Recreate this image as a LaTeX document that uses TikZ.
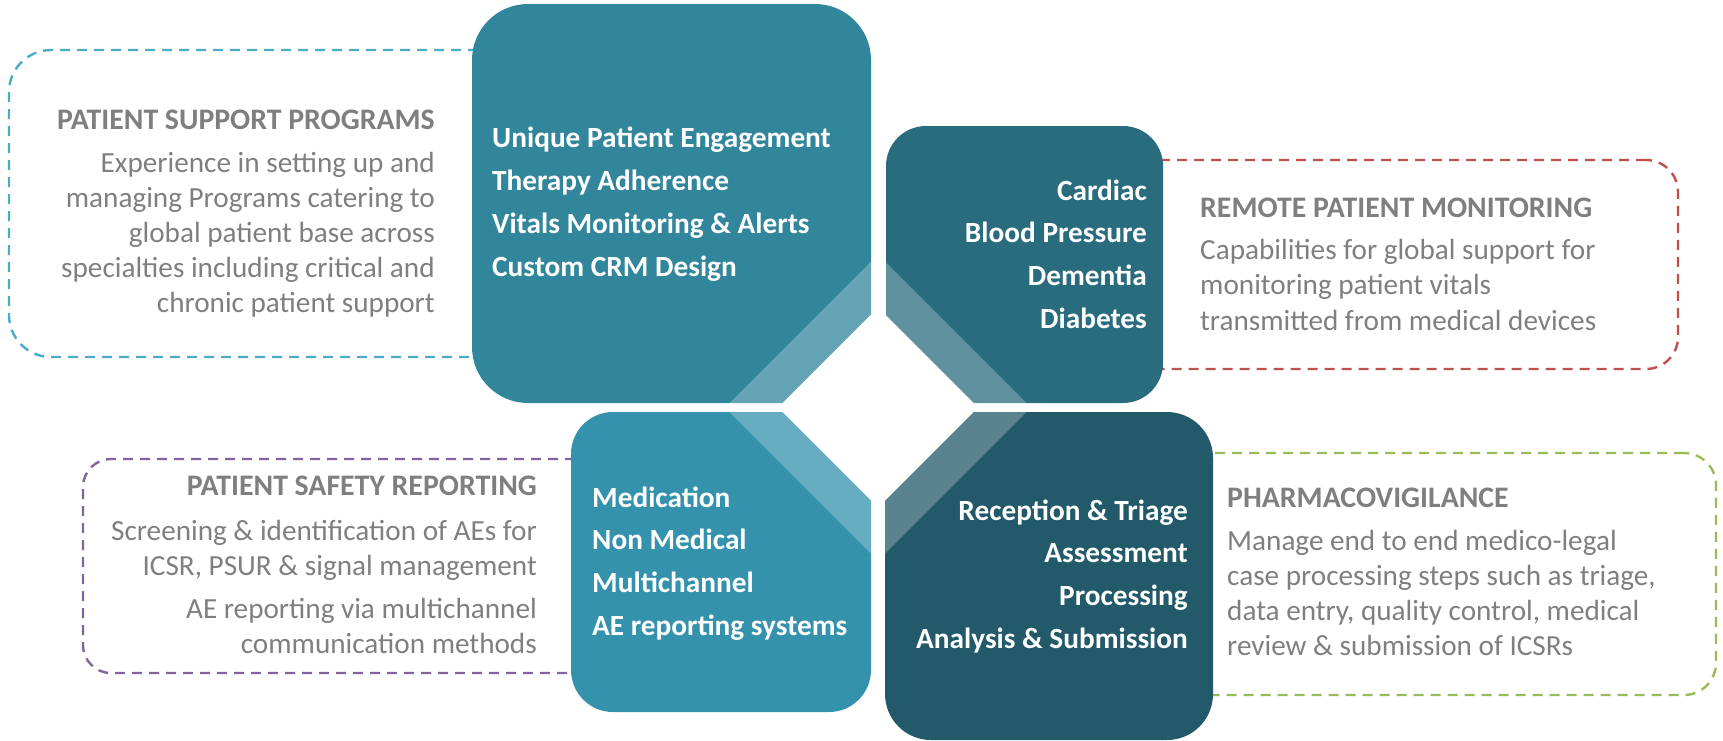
\documentclass[tikz,border=0pt]{standalone}
\usepackage{fontspec}
\setmainfont{Carlito}
\definecolor{cTL}{HTML}{32869B}
\definecolor{cTR}{HTML}{296C7E}
\definecolor{cBL}{HTML}{3592AD}
\definecolor{cBR}{HTML}{225A6A}
\definecolor{dCyan}{HTML}{4BACC6}
\definecolor{dRed}{HTML}{C0504D}
\definecolor{dPurple}{HTML}{8064A2}
\definecolor{dGreen}{HTML}{9BBB59}
\definecolor{txtgray}{HTML}{7F7F7F}
\begin{document}
\begin{tikzpicture}[x=1pt,y=-1pt,
  tile/.style={anchor=north west, inner sep=0pt, outer sep=0pt},
  dashbox/.style={anchor=north west, inner sep=0pt, outer sep=0pt, draw, line width=2.4pt, dash pattern=on 10pt off 7pt},
  boxtxt/.style={text=white, font=\fontsize{29.3}{35}\selectfont\bfseries, inner sep=0pt},
  head/.style={text=txtgray, font=\fontsize{29.8}{35}\selectfont\bfseries, inner sep=0pt},
  body/.style={text=txtgray, font=\fontsize{29.2}{35}\selectfont, inner sep=0pt},
]
\useasboundingbox (0,0) rectangle (1723,740);
% dashed description boxes
\node[dashbox, draw=dCyan, rounded corners=42pt, minimum width=511pt, minimum height=307pt] (psp) at (9,50) {};
\node[dashbox, draw=dRed, rounded corners=32pt, minimum width=578pt, minimum height=209pt] (rpm) at (1100,160) {};
\node[dashbox, draw=dPurple, rounded corners=28pt, minimum width=537pt, minimum height=214pt] (psr) at (83,459) {};
\node[dashbox, draw=dGreen, rounded corners=32pt, minimum width=536pt, minimum height=242pt] (pv) at (1180,453) {};
% tiles
\node[tile, fill=cTL, rounded corners=56pt, minimum width=399pt, minimum height=399pt] (tl) at (472,4) {};
\node[tile, fill=cTR, rounded corners=40pt, minimum width=277pt, minimum height=277pt] (tr) at (886,126) {};
\node[tile, fill=cBL, rounded corners=42pt, minimum width=300pt, minimum height=300pt] (bl) at (571,412) {};
\node[tile, fill=cBR, rounded corners=46pt, minimum width=328pt, minimum height=328pt] (br) at (885,412) {};
% centre diamond
\coordinate (c) at (878,407.5);
\fill[white, opacity=0.25] ([xshift=-153pt]c) -- ([yshift=153pt]c) -- ([xshift=153pt]c) -- ([yshift=-153pt]c) -- cycle;
\fill[white] ([xshift=-100pt]c) -- ([yshift=100pt]c) -- ([xshift=100pt]c) -- ([yshift=-100pt]c) -- cycle;
% tile texts
\foreach \t [count=\i] in {{Unique Patient Engagement},{Therapy Adherence},{Vitals Monitoring \& Alerts},{Custom CRM Design}}
  \node[boxtxt, anchor=base west] (tlt\i) at (492,{147+43.3*(\i-1)}) {\t};
\foreach \t [count=\i] in {{Cardiac},{Blood Pressure},{Dementia},{Diabetes}}
  \node[boxtxt, anchor=base east] (trt\i) at (1147,{200+42.7*(\i-1)}) {\t};
\foreach \t [count=\i] in {{Medication},{Non Medical},{Multichannel},{AE reporting systems}}
  \node[boxtxt, anchor=base west] (blt\i) at (592,{507+42.7*(\i-1)}) {\t};
\foreach \t [count=\i] in {{Reception \& Triage},{Assessment},{Processing},{Analysis \& Submission}}
  \node[boxtxt, anchor=base east] (brt\i) at (1188,{520+42.7*(\i-1)}) {\t};
% description texts
\node[head, anchor=base east] (psph) at (435,129) {PATIENT SUPPORT PROGRAMS};
\foreach \t [count=\i] in {{Experience in setting up and},{managing Programs catering to},{global patient base across},{specialties including critical and},{chronic patient support}}
  \node[body, anchor=base east] (pspb\i) at (435,{172+35*(\i-1)}) {\t};
\node[head, anchor=base west] (rpmh) at (1200,217) {REMOTE PATIENT MONITORING};
\foreach \t [count=\i] in {{Capabilities for global support for},{monitoring patient vitals},{transmitted from medical devices}}
  \node[body, anchor=base west] (rpmb\i) at (1200,{259+35.5*(\i-1)}) {\t};
\node[head, anchor=base east] (psrh) at (537,495) {PATIENT SAFETY REPORTING};
\node[body, anchor=base east] (psrb1) at (537,540) {Screening \& identification of AEs for};
\node[body, anchor=base east] (psrb2) at (537,575) {ICSR, PSUR \& signal management};
\node[body, anchor=base east] (psrb3) at (537,618) {AE reporting via multichannel};
\node[body, anchor=base east] (psrb4) at (537,653) {communication methods};
\node[head, anchor=base west] (pvh) at (1227,507) {PHARMACOVIGILANCE};
\foreach \t [count=\i] in {{Manage end to end medico-legal},{case processing steps such as triage,},{data entry, quality control, medical},{review \& submission of ICSRs}}
  \node[body, anchor=base west] (pvb\i) at (1227,{550+35.3*(\i-1)}) {\t};
\end{tikzpicture}
\end{document}
